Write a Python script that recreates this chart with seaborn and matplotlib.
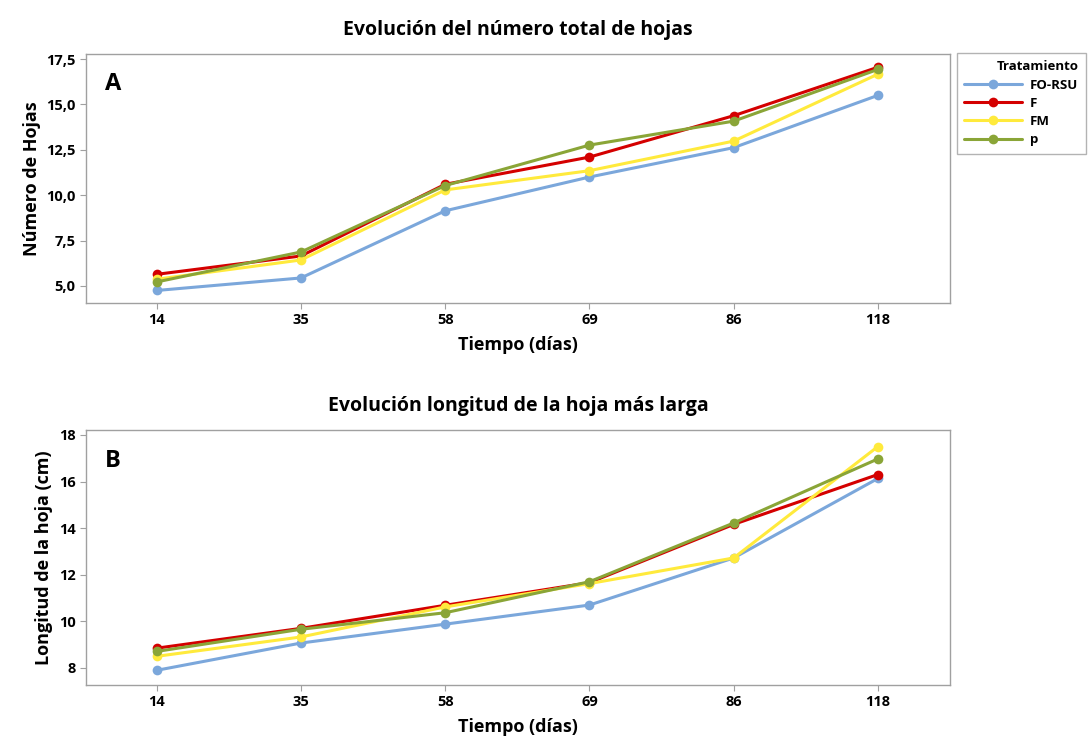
import matplotlib
matplotlib.use("Agg")
import matplotlib.pyplot as plt
import seaborn as sns
import pandas as pd

dias = ["14", "35", "58", "69", "86", "118"]
tratamientos = ["FO-RSU", "F", "FM", "p"]
colores = ["#7BA7DB", "#D40000", "#FFEA3C", "#8AA537"]

hojas_fo_rsu = [4.75, 5.44, 9.14, 11.0, 12.62, 15.5]
hojas_f = [5.64, 6.65, 10.6, 12.1, 14.38, 17.05]
hojas_fm = [5.37, 6.43, 10.29, 11.35, 12.98, 16.67]
hojas_p = [5.22, 6.87, 10.53, 12.76, 14.08, 16.93]

long_fo_rsu = [7.9, 9.07, 9.88, 10.7, 12.72, 16.13]
long_f = [8.85, 9.7, 10.69, 11.66, 14.16, 16.3]
long_fm = [8.5, 9.33, 10.62, 11.62, 12.72, 17.5]
long_p = [8.71, 9.66, 10.37, 11.7, 14.22, 16.97]


def tabla(series):
    rows = []
    for trat, vals in zip(tratamientos, series):
        for d, v in zip(dias, vals):
            rows.append({"dia": d, "valor": v, "Tratamiento": trat})
    return pd.DataFrame(rows)


df_a = tabla([hojas_fo_rsu, hojas_f, hojas_fm, hojas_p])
df_b = tabla([long_fo_rsu, long_f, long_fm, long_p])

sns.set_theme(style="white")
plt.rcParams["font.family"] = ["Open Sans", "DejaVu Sans"]
plt.rcParams["font.weight"] = "bold"
plt.rcParams["text.color"] = "black"
plt.rcParams["axes.labelcolor"] = "black"
plt.rcParams["xtick.labelcolor"] = "black"
plt.rcParams["ytick.labelcolor"] = "black"

fig = plt.figure(figsize=(10.91, 7.40), dpi=100)
W, H = 1091, 740
ax1 = fig.add_axes([86 / W, 1 - 303 / H, (950 - 86) / W, (303 - 54) / H])
ax2 = fig.add_axes([86 / W, 1 - 685 / H, (950 - 86) / W, (685 - 430) / H])

palette = dict(zip(tratamientos, colores))

for ax, df in [(ax1, df_a), (ax2, df_b)]:
    sns.lineplot(data=df, x="dia", y="valor", hue="Tratamiento",
                 hue_order=tratamientos, palette=palette, marker="o",
                 markersize=7, markeredgewidth=0, linewidth=2.2,
                 ax=ax, sort=False)
    ax.set_xlim(-0.49, 5.5)
    for s in ax.spines.values():
        s.set_color("#A0A0A0")
        s.set_linewidth(1.0)
    ax.tick_params(axis="both", which="both", direction="out", length=4,
                   width=0.8, color="#A0A0A0", labelsize=10.5,
                   labelcolor="black", left=True, bottom=True)
    for lab in ax.get_xticklabels() + ax.get_yticklabels():
        lab.set_fontweight("bold")
    ax.set_xlabel("Tiempo (días)", fontsize=13, fontweight="bold",
                  labelpad=6, color="black")

ax1.set_ylim(4.06, 17.78)
ax1.set_yticks([5.0, 7.5, 10.0, 12.5, 15.0, 17.5])
ax1.set_yticklabels(["5,0", "7,5", "10,0", "12,5", "15,0", "17,5"])
ax1.set_ylabel("Número de Hojas", fontsize=13, fontweight="bold", color="black")
ax1.set_title("Evolución del número total de hojas", fontsize=14,
              fontweight="bold", pad=14, color="black")
ax1.text(0.022, 0.88, "A", transform=ax1.transAxes, fontsize=17,
         fontweight="bold", va="center", color="black")

ax2.set_ylim(7.27, 18.21)
ax2.set_yticks([8, 10, 12, 14, 16, 18])
ax2.set_ylabel("Longitud de la hoja (cm)", fontsize=13, fontweight="bold",
               color="black")
ax2.set_title("Evolución longitud de la hoja más larga", fontsize=14,
              fontweight="bold", pad=14, color="black")
ax2.text(0.022, 0.88, "B", transform=ax2.transAxes, fontsize=17,
         fontweight="bold", va="center", color="black")

ax2.get_legend().remove()
handles, labels = ax1.get_legend_handles_labels()
ax1.get_legend().remove()
leg = fig.legend(handles, labels, title="Tratamiento",
                 loc="upper left", bbox_to_anchor=(957 / W, 1 - 53 / H),
                 frameon=True, fancybox=False, fontsize=9.5,
                 title_fontsize=9.5, handlelength=4.4, handletextpad=0.6,
                 borderpad=0.55, labelspacing=0.4, alignment="right",
                 borderaxespad=0)
leg.get_frame().set_edgecolor("#A0A0A0")
leg.get_frame().set_linewidth(1.0)
leg.get_title().set_fontweight("bold")
leg.get_title().set_color("black")
for t in leg.get_texts():
    t.set_fontweight("bold")
    t.set_color("black")

fig.savefig("out.png", dpi=100)
